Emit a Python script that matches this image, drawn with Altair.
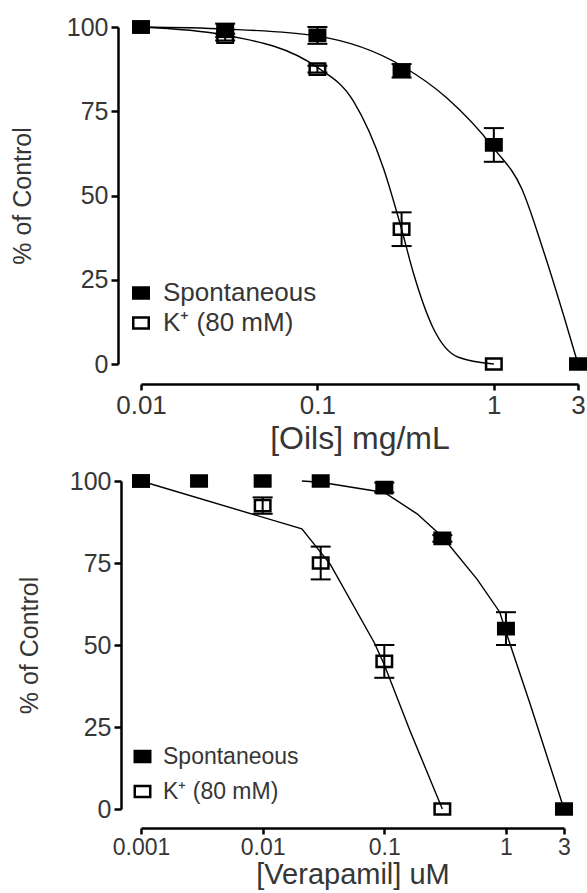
import altair as alt
import pandas as pd

SP = "Spontaneous"
KP = "K\u207a (80 mM)"

# ---------- Panel 1: oils (mg/mL) ----------
oil_spont_dose = [0.01, 0.03, 0.1, 0.3, 1, 3]
oil_spont_pct = [100, 99, 97.5, 87, 65, 0]
oil_spont_sem = [0, 2, 2.5, 2, 5, 0]
oil_k_dose = [0.01, 0.03, 0.1, 0.3, 1]
oil_k_pct = [100, 97, 87.5, 40, 0]
oil_k_sem = [0, 1, 1, 5, 0]
oil_spont_fit_dose = [0.01, 0.03, 0.1, 0.3, 0.54, 1, 1.44, 1.9, 2.5, 3]
oil_spont_fit_pct = [100, 99.4, 97.3, 88.5, 79, 64, 52, 34, 14, 0]
oil_k_fit_dose = [0.01, 0.03, 0.1, 0.16, 0.237, 0.3, 0.35, 0.45, 0.63, 1]
oil_k_fit_pct = [100, 97.6, 88, 78, 58, 40, 27, 11, 2, 0]
oil_ticks = [0.01, 0.1, 1, 3]

# ---------- Panel 2: verapamil (uM) ----------
ver_spont_dose = [0.001, 0.003, 0.01, 0.03, 0.1, 0.3, 1, 3]
ver_spont_pct = [100, 100, 100, 100, 98, 82.5, 55, 0]
ver_spont_sem = [0, 0, 0, 0, 1.5, 1, 5, 0]
ver_k_dose = [0.001, 0.01, 0.03, 0.1, 0.3]
ver_k_pct = [100, 92.5, 75, 45, 0]
ver_k_sem = [0, 2.5, 5, 5, 0]
ver_spont_fit_dose = [0.021, 0.03, 0.1, 0.186, 0.3, 0.58, 0.89, 1.0, 1.58, 3]
ver_spont_fit_pct = [100, 99.6, 96.5, 90, 83, 70, 60, 54, 32, 0]
ver_k_fit_dose = [0.001, 0.021, 0.036, 0.083, 0.1, 0.162, 0.3]
ver_k_fit_pct = [100, 85.4, 74.6, 50.6, 44, 24, 0]
ver_ticks = [0.001, 0.01, 0.1, 1, 3]

FONT = "Liberation Sans"
TXT = "#363636"
SQ = "M-1,-0.72L1,-0.72L1,0.72L-1,0.72Z"


def points_frame(sd, sp, ss, kd, kp, ks):
    rows = []
    for d, p, s in zip(kd, kp, ks):
        rows.append(dict(series=KP, dose=d, pct=p, lo=p - s, hi=p + s, sem=s))
    for d, p, s in zip(sd, sp, ss):
        rows.append(dict(series=SP, dose=d, pct=p, lo=p - s, hi=p + s, sem=s))
    return pd.DataFrame(rows)


def caps_frame(pts):
    rows = []
    for _, r in pts[pts["sem"] > 0].iterrows():
        rows.append(dict(series=r["series"], dose=r["dose"], pct=r["lo"]))
        rows.append(dict(series=r["series"], dose=r["dose"], pct=r["hi"]))
    return pd.DataFrame(rows)


def fit_frame(sd, sp, kd, kp):
    rows = [dict(series=SP, dose=d, pct=p) for d, p in zip(sd, sp)]
    rows += [dict(series=KP, dose=d, pct=p) for d, p in zip(kd, kp)]
    return pd.DataFrame(rows)


def panel(pts, fit, xdom, xvals, xtitle, w, h, xoff, yoff, xlab_fs, xtitle_fs,
          xtp, ytp, leg_x, leg_y, leg_fs, leg_rp, interp):
    xs = alt.Scale(type="log", domain=xdom, nice=False)
    ys = alt.Scale(domain=[0, 100], nice=False, zero=False)
    xa = alt.Axis(values=xvals, format="~g", title=xtitle, offset=xoff, grid=False,
                  domainColor="black", domainWidth=2.5, tickColor="black", tickWidth=2.5,
                  tickSize=6, labelFontSize=xlab_fs, labelColor=TXT, labelFont=FONT,
                  labelFlush=False, labelPadding=2, titleFontSize=xtitle_fs,
                  titleFontWeight="normal", titleColor=TXT, titleFont=FONT,
                  titlePadding=xtp)
    ya = alt.Axis(values=[0, 25, 50, 75, 100], title="% of Control", offset=yoff,
                  grid=False, domainColor="black", domainWidth=2.5, tickColor="black",
                  tickWidth=2.5, tickSize=7, labelFontSize=25, labelColor=TXT,
                  labelFont=FONT, labelPadding=3, titleFontSize=25,
                  titleFontWeight="normal", titleColor=TXT, titleFont=FONT,
                  titlePadding=ytp)
    X = alt.X("dose:Q", scale=xs, axis=xa)
    Y = alt.Y("pct:Q", scale=ys, axis=ya)

    lines = alt.Chart(fit).mark_line(color="black", strokeWidth=1.4, interpolate=interp).encode(
        x=X, y=Y, detail="series:N")
    err = pts[pts["sem"] > 0]
    rules = alt.Chart(err).mark_rule(color="black", strokeWidth=2).encode(
        x=X, y=alt.Y("lo:Q", scale=ys, axis=ya), y2="hi:Q")
    caps = alt.Chart(caps_frame(pts)).mark_tick(
        color="black", orient="horizontal", size=20, thickness=2, opacity=1).encode(x=X, y=Y)
    dots = alt.Chart(pts).mark_point(
        shape=SQ, size=240, filled=True, stroke="black", strokeWidth=2.5, opacity=1).encode(
        x=X, y=Y,
        fill=alt.Fill("series:N", sort=None,
                      scale=alt.Scale(domain=[SP, KP], range=["black", "transparent"]),
                      legend=alt.Legend(title=None, orient="none", legendX=leg_x, legendY=leg_y,
                                        labelFontSize=leg_fs, labelColor=TXT, labelFont=FONT,
                                        symbolType=SQ, symbolSize=240, symbolStrokeColor="black",
                                        symbolStrokeWidth=2.5, rowPadding=leg_rp, labelOffset=9,
                                        padding=0, symbolOffset=0, labelLimit=400)))
    return alt.layer(lines, rules, caps, dots).properties(width=w, height=h)


oil_pts = points_frame(oil_spont_dose, oil_spont_pct, oil_spont_sem,
                       oil_k_dose, oil_k_pct, oil_k_sem)
oil_fit = fit_frame(oil_spont_fit_dose, oil_spont_fit_pct, oil_k_fit_dose, oil_k_fit_pct)
ver_pts = points_frame(ver_spont_dose, ver_spont_pct, ver_spont_sem,
                       ver_k_dose, ver_k_pct, ver_k_sem)
ver_fit = fit_frame(ver_spont_fit_dose, ver_spont_fit_pct, ver_k_fit_dose, ver_k_fit_pct)

top = panel(oil_pts, oil_fit, [0.01, 3], oil_ticks, "[Oils] mg/mL", 437, 337, 20, 23,
            26, 32, 5, 31, -13, 253, 26, 4, "monotone")
bottom = panel(ver_pts, ver_fit, [0.001, 3], ver_ticks, "[Verapamil] uM", 423, 328, 19, 20,
               23, 29, 1, 27, -10, 264, 23, 11, "linear")

chart = alt.vconcat(top, bottom, spacing=117, bounds="flush").resolve_scale(
    fill="independent", x="independent", y="independent").resolve_legend(
    fill="independent").properties(
    padding={"left": 10, "top": 15, "right": -4, "bottom": 3}, background="white"
).configure_view(stroke=None)

chart.save("out.html", embed_options={"renderer": "svg", "actions": False})
